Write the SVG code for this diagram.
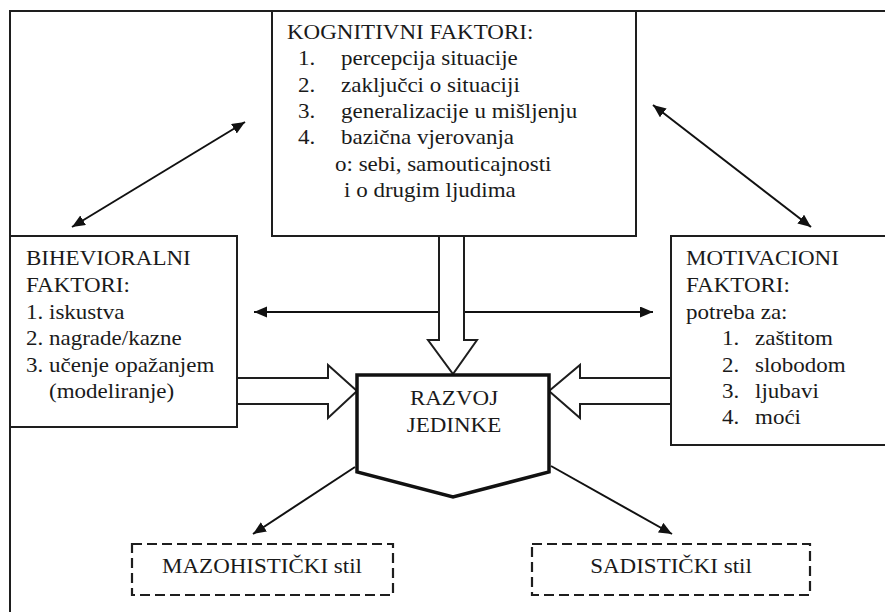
<svg xmlns="http://www.w3.org/2000/svg" width="885" height="612" viewBox="0 0 885 612">
<style>
.box{fill:#fff;stroke:#1e1e1e;stroke-width:2}
.frame{fill:none;stroke:#1e1e1e;stroke-width:2}
.dash{fill:#fff;stroke:#1e1e1e;stroke-width:2.2;stroke-dasharray:10 5}
.thick{fill:#fff;stroke:#111;stroke-width:3.5;stroke-linejoin:miter}
.line{fill:none;stroke:#111;stroke-width:2}
.block{fill:#fff;stroke:#1e1e1e;stroke-width:2;stroke-linejoin:miter}
text{font-family:'Liberation Serif','Times New Roman','DejaVu Serif',serif;font-size:20px;fill:#1a1a1a}
.c{text-anchor:middle}
</style>
<defs>
<marker id="ah" markerUnits="userSpaceOnUse" markerWidth="14" markerHeight="12" refX="13" refY="5.5" orient="auto-start-reverse">
<path d="M0,0 L13,5.5 L0,11 z" fill="#111"/>
</marker>
</defs>
<rect width="885" height="612" fill="#fff"/>
<g id="frame">
<path class="frame" d="M886,11 H10 V613"/>
</g>
<g id="node-kognitivni">
<rect class="box" x="272" y="11" width="364" height="225"/>
<text transform="translate(287,39) scale(1.15,1)">KOGNITIVNI FAKTORI:</text>
<text transform="translate(298,65) scale(1.15,1)">1.</text>
<text transform="translate(341,65) scale(1.15,1)">percepcija situacije</text>
<text transform="translate(298,91.5) scale(1.15,1)">2.</text>
<text transform="translate(341,91.5) scale(1.15,1)">zaključci o situaciji</text>
<text transform="translate(298,118) scale(1.15,1)">3.</text>
<text transform="translate(341,118) scale(1.15,1)">generalizacije u mišljenju</text>
<text transform="translate(298,144) scale(1.15,1)">4.</text>
<text transform="translate(341,144) scale(1.15,1)">bazična vjerovanja</text>
<text transform="translate(335,170.5) scale(1.15,1)">o: sebi, samouticajnosti</text>
<text transform="translate(344,197) scale(1.15,1)">i o drugim ljudima</text>
</g>
<g id="node-bihevioralni">
<rect class="box" x="10" y="236" width="227" height="191"/>
<text transform="translate(26,265) scale(1.15,1)">BIHEVIORALNI</text>
<text transform="translate(26,292) scale(1.15,1)">FAKTORI:</text>
<text transform="translate(26,319) scale(1.15,1)">1. iskustva</text>
<text transform="translate(26,345) scale(1.15,1)">2. nagrade/kazne</text>
<text transform="translate(26,372) scale(1.15,1)">3. učenje opažanjem</text>
<text transform="translate(49,398) scale(1.15,1)">(modeliranje)</text>
</g>
<g id="node-motivacioni">
<rect class="box" x="671" y="236" width="220" height="209"/>
<text transform="translate(686,265) scale(1.15,1)">MOTIVACIONI</text>
<text transform="translate(686,292) scale(1.15,1)">FAKTORI:</text>
<text transform="translate(686,319) scale(1.15,1)">potreba za:</text>
<text transform="translate(722,345) scale(1.15,1)">1.</text>
<text transform="translate(755,345) scale(1.15,1)">zaštitom</text>
<text transform="translate(722,372) scale(1.15,1)">2.</text>
<text transform="translate(755,372) scale(1.15,1)">slobodom</text>
<text transform="translate(722,398) scale(1.15,1)">3.</text>
<text transform="translate(755,398) scale(1.15,1)">ljubavi</text>
<text transform="translate(722,424) scale(1.15,1)">4.</text>
<text transform="translate(755,424) scale(1.15,1)">moći</text>
</g>
<g id="connectors">
<line class="line" x1="72" y1="227" x2="245" y2="122" marker-start="url(#ah)" marker-end="url(#ah)"/>
<line class="line" x1="653" y1="105" x2="811" y2="227" marker-start="url(#ah)" marker-end="url(#ah)"/>
<line class="line" x1="254" y1="312" x2="653" y2="312" marker-start="url(#ah)" marker-end="url(#ah)"/>
<line class="line" x1="355" y1="467" x2="253" y2="534" marker-end="url(#ah)"/>
<line class="line" x1="551" y1="466" x2="672" y2="534" marker-end="url(#ah)"/>
<polygon class="block" points="439,236 464,236 464,340 477,340 453,374 428,340 439,340"/>
<polygon class="block" points="237,378 328,378 328,365 357,391 328,418 328,404 237,404"/>
<polygon class="block" points="671,378 580,378 580,365 549,391 580,418 580,404 671,404"/>
</g>
<g id="node-razvoj">
<polygon class="thick" points="357,375 549,375 549,472 453,497 357,472"/>
<text class="c" transform="translate(454,405) scale(1.15,1)">RAZVOJ</text>
<text class="c" transform="translate(454,432) scale(1.15,1)">JEDINKE</text>
</g>
<g id="node-mazohisticki">
<rect class="dash" x="132" y="544" width="261" height="51"/>
<text class="c" transform="translate(262,573) scale(1.15,1)">MAZOHISTIČKI stil</text>
</g>
<g id="node-sadisticki">
<rect class="dash" x="532" y="544" width="278" height="51"/>
<text class="c" transform="translate(671,573) scale(1.15,1)">SADISTIČKI stil</text>
</g>
</svg>
